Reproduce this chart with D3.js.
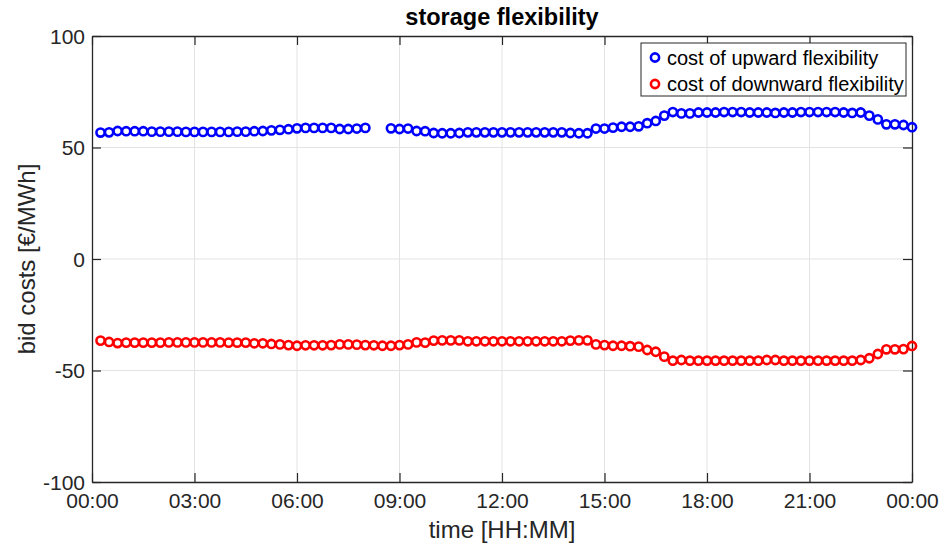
<!DOCTYPE html>
<html>
<head>
<meta charset="utf-8">
<script src="https://cdn.jsdelivr.net/npm/d3@7"></script>
<style>
  body { margin: 0; background: #fff; }
  svg { font-family: "Liberation Sans", Arial, sans-serif; }
</style>
</head>
<body>
<svg id="chart" width="943" height="547"></svg>
<script>
// quarter-hour steps, 00:15 .. 24:00 (in minutes)
const stepMinutes = 15;
const upward = [
  56.7, 56.8, 57.4, 57.3, 57.3, 57.3, 57.1, 57.1, 57.1, 57.1, 57.0, 57.0,
  57.0, 57.0, 57.0, 57.0, 57.1, 57.1, 57.3, 57.4, 57.7, 57.9, 58.2, 58.6,
  58.8, 58.8, 58.8, 58.8, 58.3, 58.3, 58.5, 58.8, null, null, 58.6, 58.3,
  58.5, 57.4, 57.3, 56.5, 56.4, 56.4, 56.5, 56.8, 56.8, 56.8, 56.8, 56.8,
  56.8, 56.8, 56.8, 56.8, 56.8, 56.8, 56.8, 56.5, 56.4, 56.4, 58.5, 58.5,
  58.9, 59.3, 59.3, 59.5, 60.9, 61.9, 64.3, 65.9, 65.3, 65.3, 65.7, 65.7,
  65.7, 65.9, 65.9, 65.9, 65.7, 65.7, 65.7, 65.5, 65.7, 65.7, 65.9, 65.9,
  65.9, 65.9, 65.9, 65.7, 65.5, 65.7, 64.3, 62.6, 60.4, 60.4, 60.1, 59.1
];
const downward = [
  -36.6, -37.2, -37.7, -37.5, -37.5, -37.5, -37.5, -37.5, -37.4, -37.4, -37.4, -37.4,
  -37.4, -37.4, -37.4, -37.5, -37.5, -37.5, -37.8, -37.8, -38.1, -38.3, -38.6, -38.9,
  -38.7, -38.7, -38.7, -38.6, -38.3, -38.3, -38.4, -38.6, -38.7, -38.9, -38.9, -38.6,
  -38.3, -37.4, -37.5, -36.6, -36.5, -36.5, -36.5, -36.9, -36.9, -36.9, -36.9, -36.9,
  -36.9, -36.9, -36.9, -36.9, -36.9, -36.9, -36.9, -36.6, -36.5, -36.5, -38.3, -38.6,
  -38.9, -38.9, -39.1, -39.3, -40.8, -41.6, -43.8, -45.6, -45.3, -45.6, -45.6, -45.6,
  -45.6, -45.6, -45.6, -45.6, -45.6, -45.6, -45.3, -45.3, -45.6, -45.6, -45.6, -45.6,
  -45.6, -45.6, -45.6, -45.6, -45.6, -45.3, -44.5, -42.6, -40.5, -40.5, -40.4, -39.0
];
const xTicks = [0, 180, 360, 540, 720, 900, 1080, 1260, 1440];
const yTicks = [-100, -50, 0, 50, 100];
const seriesNames = ['cost of upward flexibility', 'cost of downward flexibility'];
const seriesColors = ['#0000ff', '#ff0000'];

const svg = d3.select('#chart');
const margin = { top: 36, right: 31, bottom: 65, left: 92 };
const width = 943, height = 547;
const axisColor = '#262626';

const x = d3.scaleLinear().domain([0, 1440]).range([margin.left, width - margin.right]);
const y = d3.scaleLinear().domain([-100, 100]).range([height - margin.bottom, margin.top]);

const fmtTime = m => {
  const mm = m % 1440;
  return d3.format('02d')(Math.floor(mm / 60)) + ':' + d3.format('02d')(mm % 60);
};

// grid
const grid = svg.append('g').attr('stroke', '#e3e3e3').attr('stroke-width', 1);
grid.selectAll('.gx').data(xTicks.slice(1, -1)).join('line')
  .attr('x1', d => x(d)).attr('x2', d => x(d))
  .attr('y1', y(-100)).attr('y2', y(100));
grid.selectAll('.gy').data(yTicks.slice(1, -1)).join('line')
  .attr('y1', d => y(d)).attr('y2', d => y(d))
  .attr('x1', x(0)).attr('x2', x(1440));

// axes
const xAxis = svg.append('g')
  .attr('transform', `translate(0,${y(-100)})`)
  .call(d3.axisBottom(x).tickValues(xTicks).tickFormat(fmtTime).tickSizeInner(-9).tickSizeOuter(0).tickPadding(11));
const xTop = svg.append('g')
  .attr('transform', `translate(0,${y(100)})`)
  .call(d3.axisTop(x).tickValues(xTicks).tickFormat('').tickSizeInner(-9).tickSizeOuter(0));
const yAxis = svg.append('g')
  .attr('transform', `translate(${x(0)},0)`)
  .call(d3.axisLeft(y).tickValues(yTicks).tickFormat(d => String(d)).tickSizeInner(-9).tickSizeOuter(0).tickPadding(7));
const yRight = svg.append('g')
  .attr('transform', `translate(${x(1440)},0)`)
  .call(d3.axisRight(y).tickValues(yTicks).tickFormat('').tickSizeInner(-9).tickSizeOuter(0));

[xAxis, xTop, yAxis, yRight].forEach(g => {
  g.select('.domain').attr('stroke', axisColor).attr('stroke-width', 1.3);
  g.selectAll('.tick line').attr('stroke', axisColor).attr('stroke-width', 1.2);
  g.selectAll('.tick text').attr('fill', axisColor)
    .style('font-family', '"Liberation Sans", Arial, sans-serif').style('font-size', '21px');
});
yAxis.selectAll('.tick text').attr('dy', '0.35em');

// series
const rows = upward.map((u, i) => ({ t: (i + 1) * stepMinutes, u: u, d: downward[i] }));
const keys = ['u', 'd'];
keys.forEach((k, s) => {
  svg.append('g')
    .attr('fill', 'none')
    .attr('stroke', seriesColors[s])
    .attr('stroke-width', 2.6)
    .selectAll('circle')
    .data(rows.filter(r => r[k] != null))
    .join('circle')
      .attr('cx', r => x(r.t))
      .attr('cy', r => y(r[k]))
      .attr('r', 4.1);
});

// title and labels
svg.append('text')
  .attr('x', (x(0) + x(1440)) / 2).attr('y', 25)
  .attr('text-anchor', 'middle').attr('font-weight', 'bold').attr('font-size', 23.5)
  .attr('fill', '#000').text('storage flexibility');
svg.append('text')
  .attr('x', (x(0) + x(1440)) / 2).attr('y', 538)
  .attr('text-anchor', 'middle').attr('font-size', 24).attr('fill', axisColor)
  .text('time [HH:MM]');
svg.append('text')
  .attr('transform', `translate(35,${y(0)}) rotate(-90)`)
  .attr('text-anchor', 'middle').attr('font-size', 24).attr('fill', axisColor)
  .text('bid costs [€/MWh]');

// legend
const legend = svg.append('g').attr('transform', 'translate(641,43)');
legend.append('rect')
  .attr('width', 265).attr('height', 53)
  .attr('fill', '#fff').attr('stroke', axisColor).attr('stroke-width', 1);
seriesNames.forEach((name, i) => {
  const ly = 14.5 + i * 26.5;
  legend.append('circle')
    .attr('cx', 14).attr('cy', ly).attr('r', 4.1)
    .attr('fill', 'none').attr('stroke', seriesColors[i]).attr('stroke-width', 2.6);
  legend.append('text')
    .attr('x', 26).attr('y', ly).attr('dy', '0.35em')
    .attr('font-size', 20).attr('fill', '#000').text(name);
});
</script>
</body>
</html>
